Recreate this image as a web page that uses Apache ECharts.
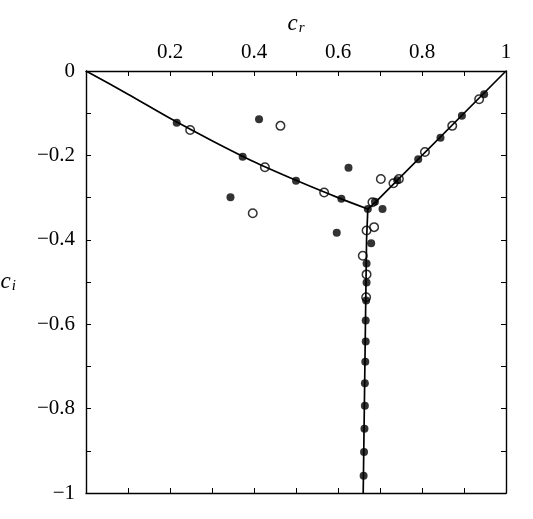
<!DOCTYPE html>
<html>
<head>
<meta charset="utf-8">
<script src="https://cdn.jsdelivr.net/npm/echarts@6/dist/echarts.min.js"></script>
<style>
  html, body { margin: 0; background: #fff; }
  #chart { width: 533px; height: 519px; }
</style>
</head>
<body>
<div id="chart"></div>
<script>
  // branches of the spectrum (cr, ci)
  var leftBranch = [[0, 0], [0.1, -0.055], [0.2, -0.112], [0.3, -0.165], [0.4, -0.215], [0.5, -0.259], [0.6, -0.300], [0.671, -0.327]];
  var rightBranch = [[0.671, -0.327], [0.69, -0.310], [1, 0]];
  var centreBranch = [[0.671, -0.327], [0.668, -0.40], [0.66, -1]];

  // filled circles
  var solidPts = [
    [0.216, -0.1225], [0.373, -0.203], [0.5, -0.26], [0.608, -0.303], [0.671, -0.327],
    [0.688, -0.310], [0.741, -0.259], [0.791, -0.209], [0.844, -0.158], [0.895, -0.106], [0.948, -0.055],
    [0.679, -0.408], [0.668, -0.456], [0.668, -0.501], [0.667, -0.544], [0.666, -0.591], [0.666, -0.641],
    [0.665, -0.689], [0.664, -0.740], [0.664, -0.793], [0.663, -0.848], [0.662, -0.903], [0.661, -0.959],
    [0.412, -0.1145], [0.344, -0.299], [0.625, -0.229], [0.706, -0.327], [0.597, -0.383]
  ];
  // open circles
  var openPts = [
    [0.248, -0.140], [0.426, -0.228], [0.567, -0.288], [0.682, -0.311], [0.732, -0.266], [0.745, -0.256],
    [0.807, -0.192], [0.872, -0.130], [0.936, -0.067],
    [0.463, -0.130], [0.397, -0.337], [0.702, -0.256],
    [0.668, -0.378], [0.686, -0.370], [0.659, -0.438], [0.668, -0.482], [0.667, -0.536]
  ];

  var font = "'Liberation Serif', 'Times New Roman', serif";
  var ink = '#000';

  function fmtX(v) {
    var k = Math.round(v * 10);
    if (k === 0 || k % 2) return '';
    return k === 10 ? '1' : (k / 10).toFixed(1);
  }
  function fmtY(v) {
    var k = Math.round(v * 10);
    if (k % 2) return '';
    if (k === 0) return '0';
    if (k === -10) return '\u22121';
    return '\u2212' + (Math.abs(k) / 10).toFixed(1);
  }

  function axisBase(extra) {
    var a = {
      type: 'value',
      interval: 0.1,
      axisLine: { show: true, onZero: false, lineStyle: { color: ink, width: 1.4 } },
      axisTick: { show: true, inside: true, length: 5, lineStyle: { color: ink, width: 1 } },
      splitLine: { show: false },
      axisLabel: { show: false }
    };
    for (var k in extra) a[k] = extra[k];
    return a;
  }

  var nameRich = {
    c: { fontFamily: font, fontStyle: 'italic', fontSize: 23, color: ink },
    s: { fontFamily: font, fontStyle: 'italic', fontSize: 15, color: ink, padding: [9, 0, 0, 1] }
  };
  var labelStyle = { fontFamily: font, fontSize: 21, color: ink };

  var option = {
    animation: false,
    grid: { left: 86, right: 27, top: 71, bottom: 26, outerBoundsMode: 'none', containLabel: false },
    xAxis: [
      axisBase({
        position: 'top', min: 0, max: 1,
        axisLabel: Object.assign({ show: true, formatter: fmtX, margin: 8, showMinLabel: true, showMaxLabel: true }, labelStyle),
        name: '{c|c}{s|r}', nameLocation: 'middle', nameGap: 35,
        nameTextStyle: { rich: nameRich }
      }),
      axisBase({ position: 'bottom', min: 0, max: 1 })
    ],
    yAxis: [
      axisBase({
        position: 'left', min: -1, max: 0,
        axisLabel: Object.assign({ show: true, formatter: fmtY, margin: 11, showMinLabel: true, showMaxLabel: true }, labelStyle),
        name: '{c|c}{s|i}', nameLocation: 'middle', nameGap: 70, nameRotate: 0,
        nameTextStyle: { rich: nameRich }
      }),
      axisBase({ position: 'right', min: -1, max: 0 })
    ],
    series: [
      { type: 'line', data: leftBranch, smooth: 0.3, symbol: 'none', lineStyle: { color: ink, width: 1.7 }, z: 2 },
      { type: 'line', data: rightBranch, symbol: 'none', lineStyle: { color: ink, width: 1.7 }, z: 2 },
      { type: 'line', data: centreBranch, symbol: 'none', lineStyle: { color: ink, width: 1.7 }, z: 2 },
      { type: 'scatter', data: solidPts, symbol: 'circle', symbolSize: 8, itemStyle: { color: ink }, z: 3 },
      { type: 'scatter', data: openPts, symbol: 'circle', symbolSize: 8.5,
        itemStyle: { color: 'rgba(0,0,0,0)', borderColor: ink, borderWidth: 1.5 }, z: 4 }
    ]
  };

  var chart = echarts.init(document.getElementById('chart'));
  chart.setOption(option);
</script>
</body>
</html>
